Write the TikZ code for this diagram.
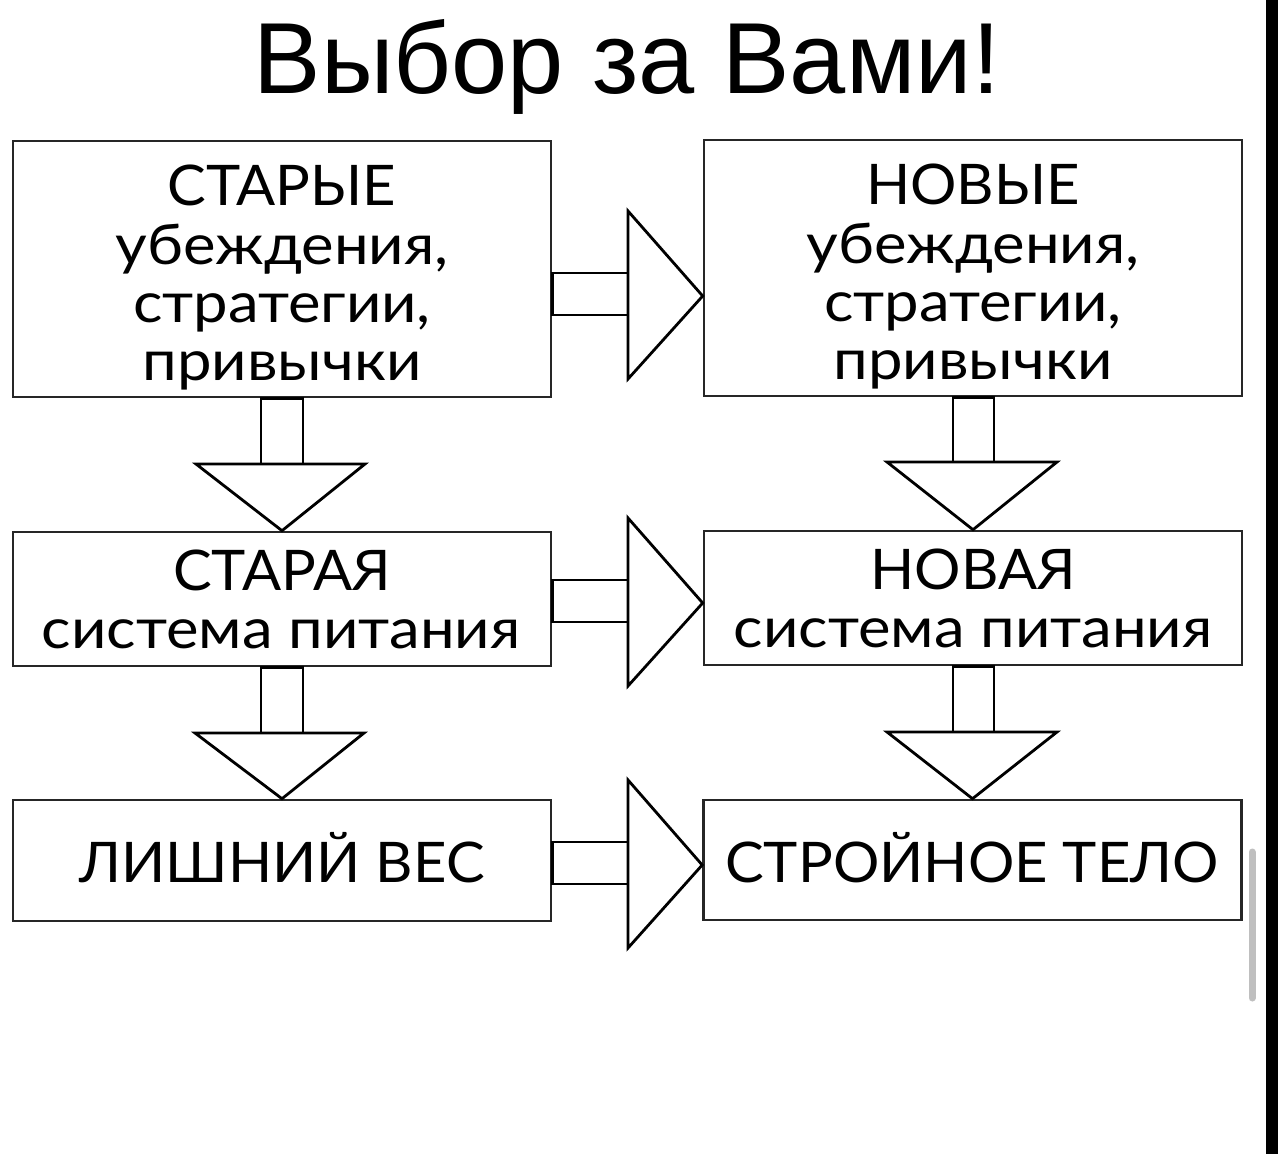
\documentclass[tikz,border=0pt]{standalone}
\usepackage{fontspec}
\setmainfont{Liberation Sans}
\newfontfamily\boxfont[FakeStretch=1.1]{Lato}
\newfontfamily\capfont[FakeStretch=1.035]{Lato}
\begin{document}
\begin{tikzpicture}[x=1pt,y=-1pt,
  box/.style={draw=black!85, line width=2.6pt, minimum width=538pt, inner sep=0pt},
  arr/.style={draw=black, line width=2.8pt, line join=miter, fill=white},
  btxt/.style={font=\boxfont\fontsize{56}{56}\selectfont, anchor=base, inner sep=0pt},
  ctxt/.style={font=\capfont\fontsize{56}{56}\selectfont, anchor=base, inner sep=0pt},
  ttl/.style={font=\fontsize{101}{101}\selectfont, anchor=base, inner sep=0pt}]
\useasboundingbox (0,0) rectangle (1278,1154);
\fill[white] (0,0) rectangle (1278,1154);
% title
\node[ttl] (title) at (627,93) {Выбор за Вами!};
% boxes
\node[box, minimum height=256pt] (L1) at (282,269) {};
\node[box, minimum height=256pt] (R1) at (973,268) {};
\node[box, minimum height=134pt] (L2) at (282,599) {};
\node[box, minimum height=134pt] (R2) at (973,598) {};
\node[box, minimum height=121pt] (L3) at (282,860.5) {};
\node[box, minimum height=120pt] (R3) at (972.5,860) {};
% texts
\node[ctxt] (l1a) at (282,205) {СТАРЫЕ};
\node[btxt] (l1b) at (282,264) {убеждения,};
\node[btxt] (l1c) at (282,322) {стратегии,};
\node[btxt] (l1d) at (282,380) {привычки};
\node[ctxt] (r1a) at (973,204) {НОВЫЕ};
\node[btxt] (r1b) at (973,263) {убеждения,};
\node[btxt] (r1c) at (973,321) {стратегии,};
\node[btxt] (r1d) at (973,379) {привычки};
\node[ctxt] (l2a) at (282,590) {СТАРАЯ};
\node[btxt] (l2b) at (281,648) {система питания};
\node[ctxt] (r2a) at (973,589) {НОВАЯ};
\node[btxt] (r2b) at (973,647) {система питания};
\node[ctxt] (l3a) at (282,882) {ЛИШНИЙ ВЕС};
\node[ctxt] (r3a) at (972,882) {СТРОЙНОЕ ТЕЛО};
% right arrows
\foreach \a/\b/\c in {L1/R1/294, L2/R2/601, L3/R3/863}{
  \draw[arr] (\a.east |- 0,\c-21) rectangle (628,\c+21);
  \draw[arr] (628,\c-83) -- (\b.west |- 0,\c+2) -- (628,\c+85) -- cycle;
}
% down arrows
\draw[arr] (261,0 |- L1.south) rectangle (303,464);
\draw[arr] (196,464) -- (L2.north) -- (365,464) -- cycle;
\draw[arr] (261,0 |- L2.south) rectangle (303,733);
\draw[arr] (195,733) -- (L3.north) -- (364,733) -- cycle;
\draw[arr] (953,0 |- R1.south) rectangle (994,462);
\draw[arr] (887,462) -- (R2.north) -- (1057,462) -- cycle;
\draw[arr] (953,0 |- R2.south) rectangle (994,732);
\draw[arr] (887,732) -- (R3.north) -- (1057,732) -- cycle;
% scrollbar and right edge
\draw[black!25, line width=7pt, line cap=round] (1252,852) -- (1252,998);
\fill[black] (1266,0) rectangle (1278,1154);
\end{tikzpicture}
\end{document}
